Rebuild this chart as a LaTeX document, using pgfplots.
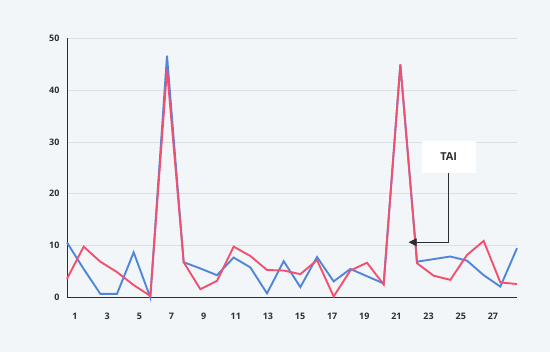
\documentclass[border=0pt]{standalone}
\usepackage{pgfplots}
\pgfplotsset{compat=1.18}
\usepackage{fontspec}
\setmainfont{Open Sans}
\usetikzlibrary{arrows.meta}
\definecolor{bg}{HTML}{F3F6F9}
\definecolor{gridc}{HTML}{DCE0E5}
\definecolor{labc}{HTML}{2B2F33}
\definecolor{blueL}{HTML}{4F86D9}
\definecolor{redL}{HTML}{F2506E}
\begin{document}
\begin{tikzpicture}[x=1bp,y=1bp]
\fill[bg] (-67,-54.5) rectangle (483,297.5);
\begin{axis}[
  at={(0,0)}, anchor=south west,
  scale only axis, width=450bp, height=259.5bp,
  xmin=1, xmax=28, ymin=0, ymax=50,
  axis x line*=bottom, axis y line*=left,
  y axis line style={draw=labc, line width=0.8pt},
  x axis line style={draw=labc, line width=0.9pt},
  major tick length=0pt,
  ytick={0,10,20,30,40,50},
  ymajorgrids, grid style={draw=gridc, line width=0.6pt},
  xtick={1.482,3.411,5.339,7.268,9.196,11.125,13.054,14.982,16.911,18.839,20.768,22.696,24.625,26.554},
  xticklabels={1,3,5,7,9,11,13,15,17,19,21,23,25,27},
  /pgf/number format/assume math mode=true,
  tick label style={font=\bfseries\fontsize{9}{10}\selectfont, text=labc},
  yticklabel style={xshift=-4bp},
  xticklabel style={yshift=-12bp},
  clip=false,
]
\addplot[blueL, line width=1.9pt, no markers] coordinates {
(1,10.6)(2,5.5)(3,0.7)(4,0.7)(5,8.7)(6,0)(7,46.6)(8,6.8)(9,5.6)(10,4.3)
(11,7.7)(12,5.8)(13,0.8)(14,7.0)(15,2.0)(16,7.8)(17,3.1)(18,5.5)(19,4.1)(20,2.7)
(21,44.9)(22,6.9)(23,7.4)(24,7.9)(25,7.1)(26,4.3)(27,2.1)(28,9.5)};
\addplot[redL, line width=1.9pt, no markers] coordinates {
(1,3.6)(2,9.8)(3,6.9)(4,4.9)(5,2.4)(6,0.3)(7,43.9)(8,6.8)(9,1.6)(10,3.2)
(11,9.8)(12,8.0)(13,5.3)(14,5.2)(15,4.5)(16,7.2)(17,0.2)(18,5.2)(19,6.7)(20,2.5)
(21,44.9)(22,6.6)(23,4.2)(24,3.4)(25,8.2)(26,10.9)(27,2.9)(28,2.6)};
\node[fill=white, font=\bfseries\fontsize{11}{13}\selectfont, text=labc, minimum width=54bp, minimum height=32bp, inner sep=0pt] (tai) at (axis cs:23.9,27.1) {TAI};
\draw[labc, line width=0.8pt, -{Triangle[length=8bp,width=8bp]}] (tai.south) |- (axis cs:21.5,10.65);
\end{axis}
\pgfresetboundingbox
\useasboundingbox (-67,-54.5) rectangle (483,297.5);
\end{tikzpicture}
\end{document}
